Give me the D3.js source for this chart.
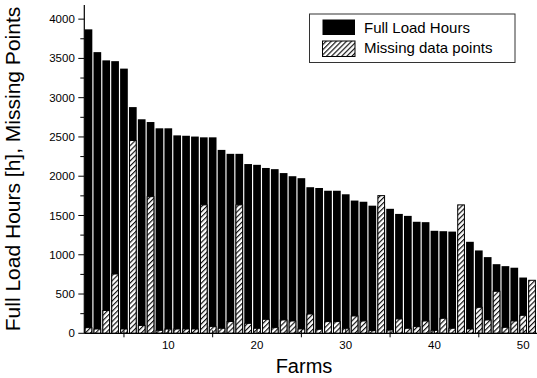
<!DOCTYPE html>
<html><head><meta charset="utf-8">
<script src="https://cdn.jsdelivr.net/npm/d3@7"></script>
<style>body{margin:0;background:#fff}svg{display:block;font-family:"Liberation Sans",Arial,sans-serif}</style>
</head><body>
<script>
const farms = d3.range(1, 52);
const fullLoadHours = [3870,3580,3475,3465,3370,2880,2725,2690,2610,2610,2520,2515,2505,2495,2495,2335,2285,2285,2155,2145,2105,2090,2040,2000,1975,1860,1850,1815,1815,1770,1690,1675,1625,1620,1585,1520,1495,1420,1415,1305,1300,1295,1250,1165,1055,970,880,855,835,710,600];
const missingPoints = [72,55,290,755,55,2455,100,1740,38,55,55,55,55,1635,85,64,150,1635,127,64,178,72,170,157,55,246,51,149,149,64,221,157,34,1753,42,183,64,85,157,38,191,64,1635,55,331,170,535,76,157,229,675];
const yMajorTicks = [0,500,1000,1500,2000,2500,3000,3500,4000];
const yMinorTicks = [250,750,1250,1750,2250,2750,3250,3750];
const xMajorTicks = [10,20,30,40,50];
const xMinorTicks = [5,15,25,35,45];
const seriesNames = ["Full Load Hours","Missing data points"];

const W = 537, H = 378;
const svg = d3.select("body").append("svg").attr("width", W).attr("height", H);
const defs = svg.append("defs");
const pat = defs.append("pattern").attr("id","hatch").attr("patternUnits","userSpaceOnUse")
  .attr("width",3.6).attr("height",3.6).attr("patternTransform","rotate(45)");
pat.append("rect").attr("width",3.6).attr("height",3.6).attr("fill","#fff");
pat.append("line").attr("x1",0.6).attr("y1",0).attr("x2",0.6).attr("y2",3.6).attr("stroke","#000").attr("stroke-width",1.1);

const x0 = 84.3, xR = 537, y0 = 333.3, yTop = 5;
const x = d3.scaleLinear().domain([0.53, 51.56]).range([x0, xR]);
const y = d3.scaleLinear().domain([0, 4180]).range([y0, yTop]);
const bw = 7.7;

// bars
const g = svg.append("g");
g.selectAll("rect.full").data(farms).join("rect").attr("class","full")
  .attr("x", d => x(d) - bw/2).attr("width", bw)
  .attr("y", (d,i) => y(fullLoadHours[i])).attr("height", (d,i) => y0 - y(fullLoadHours[i]))
  .attr("fill","#000");
g.selectAll("rect.miss").data(farms).join("rect").attr("class","miss")
  .attr("x", d => x(d) - bw/2 + 0.5).attr("width", bw - 1)
  .attr("y", (d,i) => y(missingPoints[i])).attr("height", (d,i) => y0 - y(missingPoints[i]))
  .attr("fill","url(#hatch)").attr("stroke","#000").attr("stroke-width",1);

// y axis
const ya = svg.append("g").attr("transform",`translate(${x0},0)`);
ya.append("line").attr("x1",0).attr("x2",0).attr("y1",yTop).attr("y2",y0).attr("stroke","#000").attr("stroke-width",1.2);
ya.selectAll("line.maj").data(yMajorTicks).join("line").attr("class","maj")
  .attr("x1",-6).attr("x2",0).attr("y1",d=>y(d)).attr("y2",d=>y(d)).attr("stroke","#000");
ya.selectAll("line.min").data(yMinorTicks).join("line").attr("class","min")
  .attr("x1",-4).attr("x2",0).attr("y1",d=>y(d)).attr("y2",d=>y(d)).attr("stroke","#000");
ya.selectAll("text").data(yMajorTicks).join("text")
  .attr("x",-9.5).attr("y",d=>y(d)).attr("dy","0.35em").attr("text-anchor","end")
  .attr("font-size",11.5).text(d=>d);

// x axis
const xa = svg.append("g").attr("transform",`translate(0,${y0})`);
xa.append("line").attr("x1",x0).attr("x2",xR).attr("y1",0).attr("y2",0).attr("stroke","#000").attr("stroke-width",1.2);
xa.selectAll("line.maj").data(xMajorTicks).join("line").attr("class","maj")
  .attr("x1",d=>x(d)).attr("x2",d=>x(d)).attr("y1",-5).attr("y2",0).attr("stroke","#000");
xa.selectAll("line.min").data(xMinorTicks).join("line").attr("class","min")
  .attr("x1",d=>x(d)).attr("x2",d=>x(d)).attr("y1",-3).attr("y2",4).attr("stroke","#000");
xa.selectAll("text").data(xMajorTicks).join("text")
  .attr("x",d=>x(d)).attr("y",15.5).attr("text-anchor","middle")
  .attr("font-size",11.5).text(d=>d);

// titles
svg.append("text").attr("x",304).attr("y",373).attr("text-anchor","middle").attr("font-size",20).text("Farms");
svg.append("text").attr("transform","translate(20,169) rotate(-90)").attr("text-anchor","middle")
  .attr("font-size",21).text("Full Load Hours [h], Missing Points");

// legend
const lg = svg.append("g");
lg.append("rect").attr("x",309.5).attr("y",14).attr("width",205.5).attr("height",48.5)
  .attr("fill","#fff").attr("stroke","#333").attr("stroke-width",1);
lg.append("rect").attr("x",322.5).attr("y",19.5).attr("width",32.5).attr("height",15.5).attr("fill","#000");
lg.append("rect").attr("x",322.5).attr("y",41).attr("width",32.5).attr("height",15.5)
  .attr("fill","url(#hatch)").attr("stroke","#000").attr("stroke-width",1);
lg.selectAll("text").data(seriesNames).join("text")
  .attr("x",364).attr("y",(d,i)=>33 + i*20).attr("font-size",15).text(d=>d);
</script>
</body></html>
